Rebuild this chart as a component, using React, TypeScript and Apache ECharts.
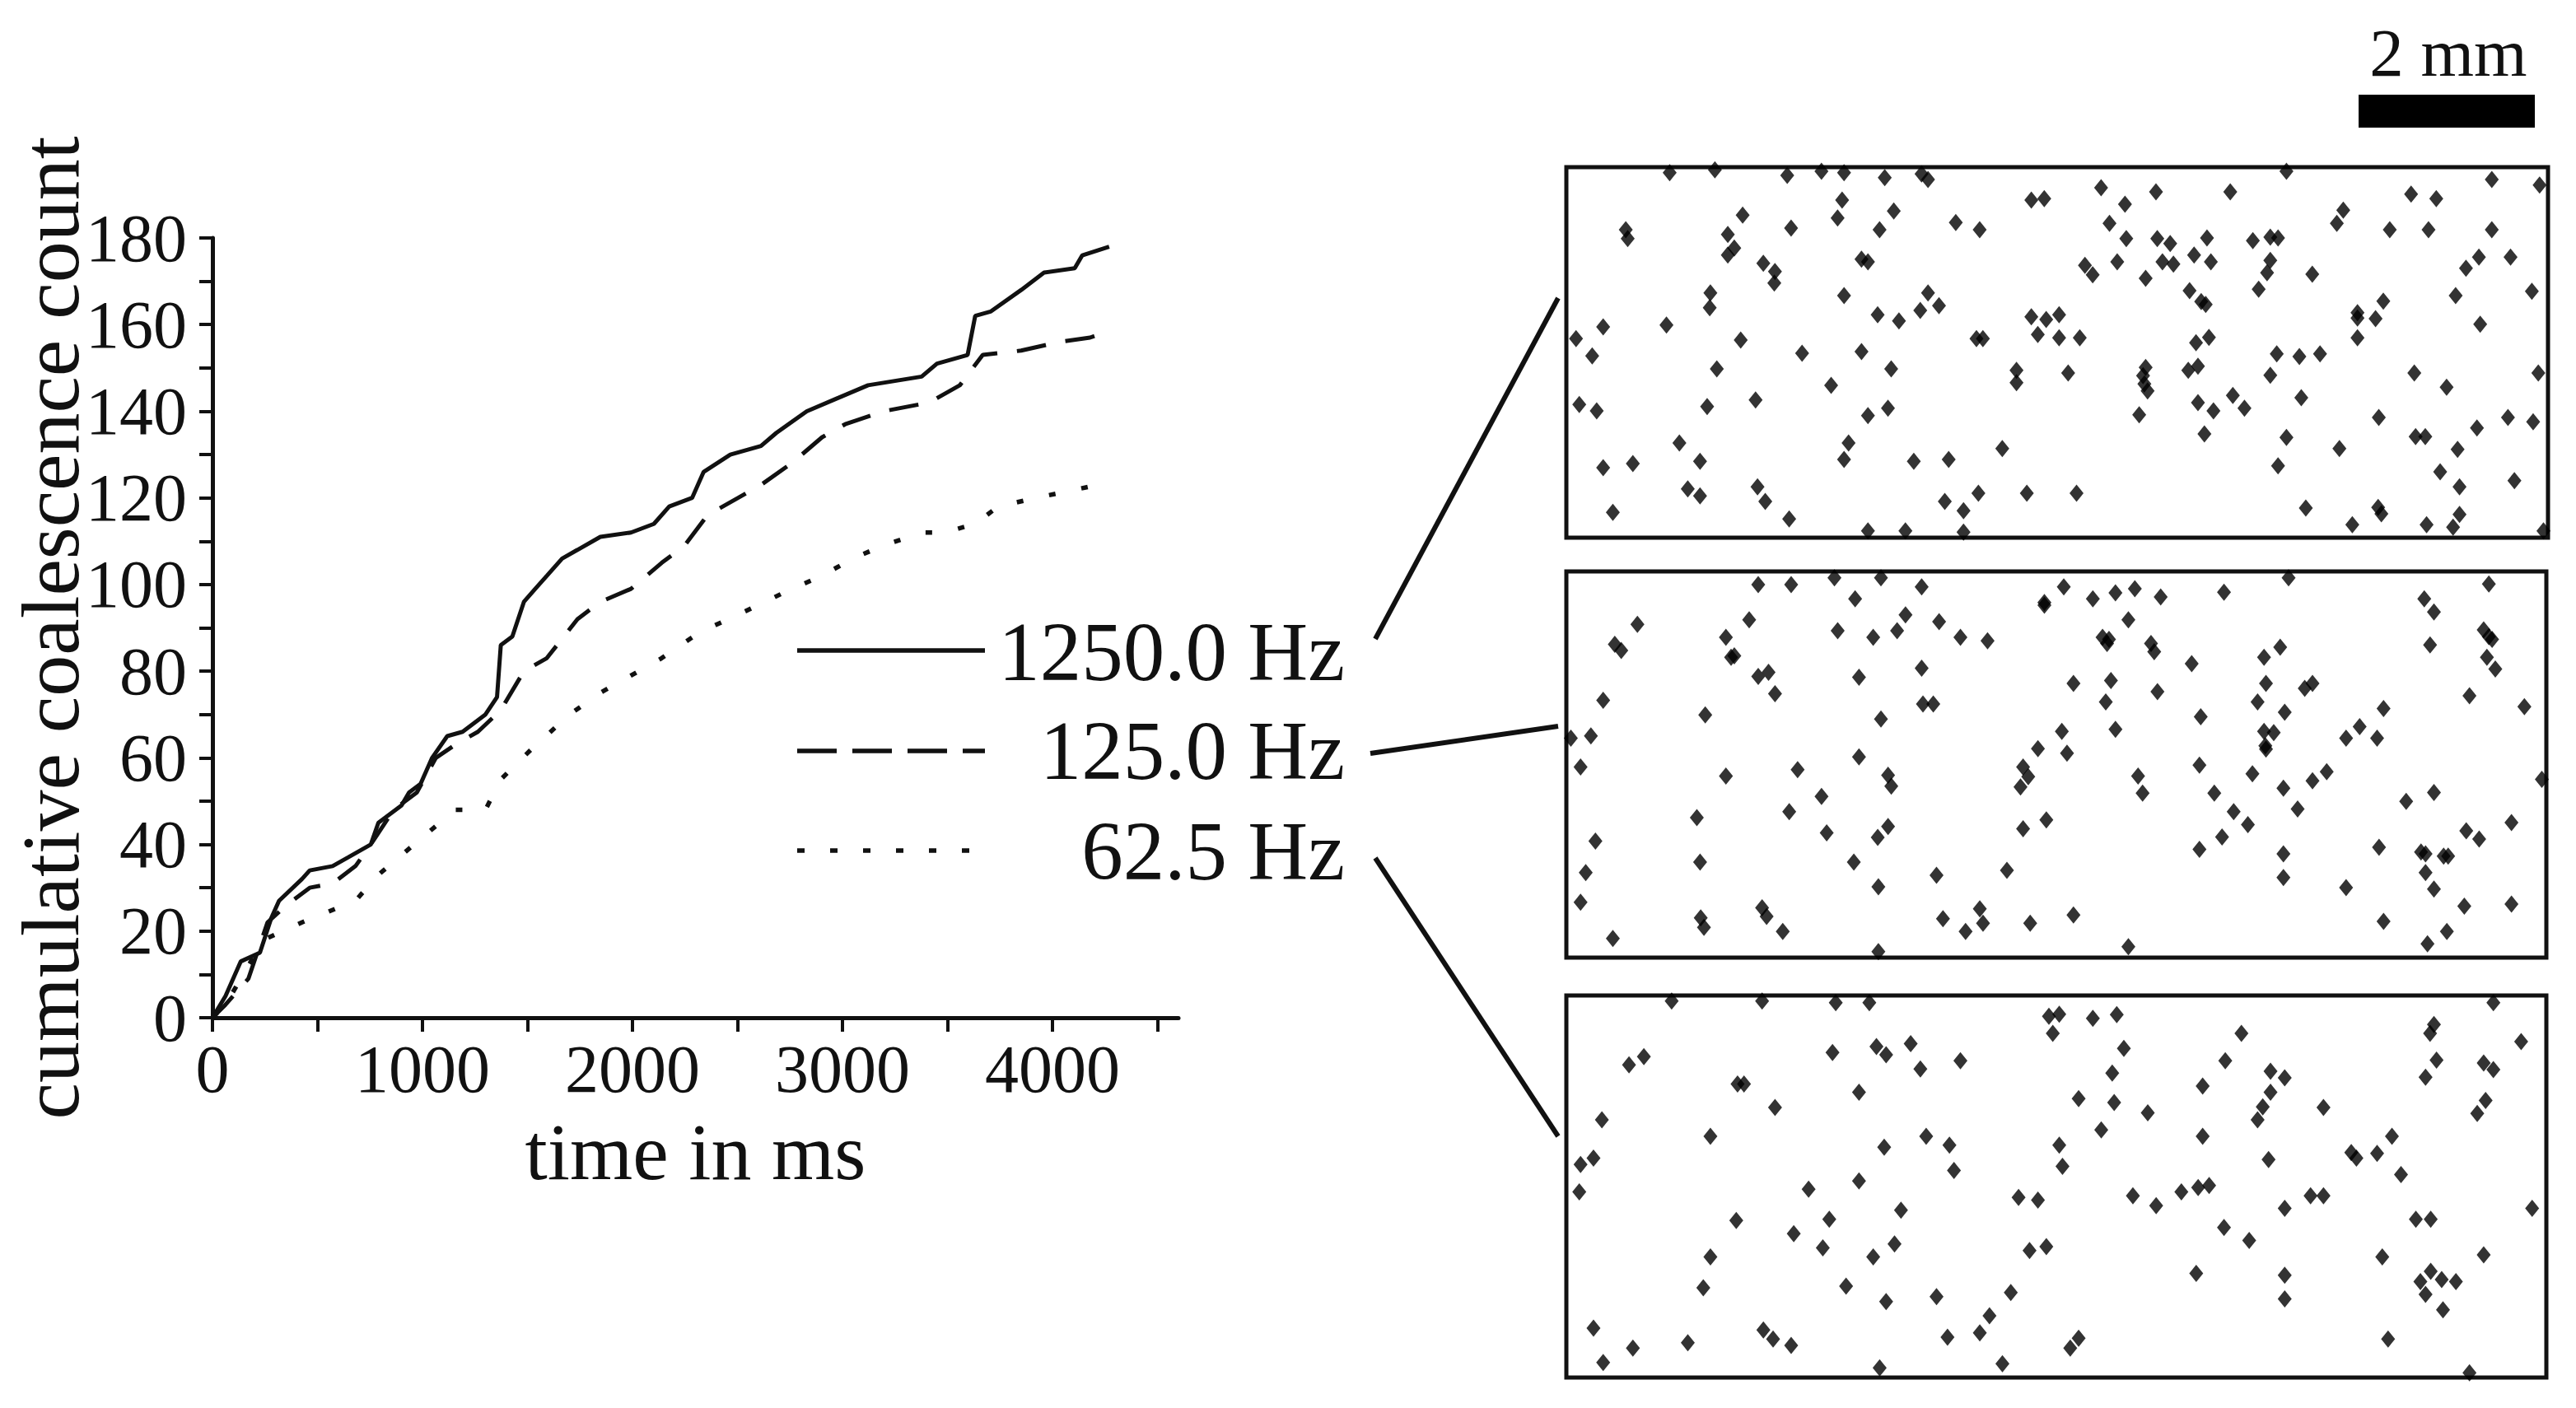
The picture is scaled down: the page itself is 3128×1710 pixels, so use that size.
import React, { useEffect, useRef } from "react";
import * as echarts from "echarts";

// ---- cumulative coalescence curves (time in ms, count) ----
const t1250 = [0, 62, 135, 226, 280, 317, 426, 463, 572, 645, 754, 790, 900, 936, 991, 1046, 1118, 1191, 1300, 1355, 1373, 1428, 1483, 1537, 1592, 1665, 1738, 1847, 1993, 2102, 2175, 2284, 2339, 2466, 2612, 2685, 2830, 2976, 3122, 3377, 3450, 3596, 3632, 3705, 3851, 3960, 4106, 4142, 4270];
const v1250 = [0, 5, 13, 15, 23, 27, 32, 34, 35, 37, 40, 45, 49, 52, 54, 60, 65, 66, 70, 74, 86, 88, 96, 99, 102, 106, 108, 111, 112, 114, 118, 120, 126, 130, 132, 135, 140, 143, 146, 148, 151, 153, 162, 163, 168, 172, 173, 176, 178];

const t125 = [0, 62, 171, 262, 353, 463, 572, 681, 754, 863, 973, 1064, 1155, 1264, 1373, 1483, 1592, 1738, 1847, 1993, 2139, 2248, 2357, 2503, 2612, 2758, 2903, 3013, 3195, 3413, 3559, 3668, 3851, 4033, 4179, 4240];
const v125 = [0, 3, 9, 22, 26, 30, 31, 35, 40, 48, 52, 60, 63, 66, 71, 80, 83, 92, 96, 99, 105, 109, 116, 120, 123, 128, 134, 137, 140, 142, 146, 153, 154, 156, 157, 158];

const t625 = [0, 62, 244, 426, 681, 790, 1009, 1155, 1300, 1373, 1519, 1701, 1847, 1993, 2139, 2321, 2503, 2758, 2903, 3049, 3195, 3377, 3486, 3632, 3741, 3924, 4215];
const v625 = [0, 3, 18, 22, 27, 33, 42, 48, 48, 55, 62, 70, 75, 79, 83, 89, 93, 99, 102, 106, 109, 112, 112, 114, 118, 120, 123];

const seriesNames = ["1250.0 Hz", "125.0 Hz", "62.5 Hz"];
const xTickValues = [0, 500, 1000, 1500, 2000, 2500, 3000, 3500, 4000, 4500];
const xLabelValues = [0, 1000, 2000, 3000, 4000];
const yTickValues = [0, 10, 20, 30, 40, 50, 60, 70, 80, 90, 100, 110, 120, 130, 140, 150, 160, 170, 180];
const yLabelValues = [0, 20, 40, 60, 80, 100, 120, 140, 160, 180];

// ---- droplet positions in each snapshot (image units, y downward) ----
const dropsTop: [number, number][] = [
  [175, 60], [245, 50], [357, 70], [410, 55], [445, 60], [508, 78], [565, 65], [575, 85], [1130, 55], [1448, 85], [1522, 105],
  [843, 115], [928, 130], [1043, 130], [1323, 138], [1362, 155], [735, 160], [755, 155], [442, 160], [880, 175], [1218, 197],
  [522, 200], [288, 215], [435, 225], [1208, 245], [856, 245], [618, 242], [655, 268], [500, 268], [363, 262], [107, 268],
  [110, 300], [265, 285], [1290, 268], [1350, 268], [1448, 268], [882, 300], [930, 300], [950, 318], [1007, 298], [1078, 308],
  [1105, 295], [1117, 298], [275, 335], [265, 360], [472, 375], [482, 385], [320, 390], [338, 420], [337, 462], [818, 398],
  [830, 432], [868, 385], [938, 385], [955, 393], [987, 360], [1013, 385], [1105, 380], [1100, 425], [1170, 430], [1428, 368],
  [1408, 408], [1477, 368], [912, 445], [1087, 485], [238, 498], [445, 508], [575, 498], [592, 545], [563, 562], [497, 578],
  [530, 600], [237, 552], [980, 490], [998, 530], [1005, 540], [1392, 508], [1510, 492], [1280, 528], [1240, 570], [1240, 590],
  [1268, 592], [1430, 612], [735, 585], [758, 595], [778, 578], [745, 650], [778, 662], [810, 662], [650, 665], [660, 665],
  [990, 680], [1010, 660], [1240, 662], [72, 622], [170, 615], [30, 665], [285, 670], [55, 728], [380, 718], [472, 712],
  [1115, 720], [1150, 730], [1182, 720], [248, 775], [518, 775], [712, 780], [712, 825], [792, 790], [912, 770], [908, 800],
  [910, 830], [915, 855], [978, 780], [993, 765], [1105, 798], [1328, 790], [1520, 790], [1378, 842], [425, 835], [35, 905],
  [62, 928], [233, 912], [308, 888], [482, 945], [513, 918], [902, 942], [993, 898], [1017, 928], [1047, 872], [1065, 918],
  [1153, 880], [1273, 952], [1473, 952], [1512, 968], [1425, 990], [1003, 1012], [1130, 1025], [1330, 1022], [1345, 1022],
  [1395, 1068], [1212, 1065], [690, 1065], [190, 1045], [452, 1045], [445, 1105], [553, 1112], [607, 1105], [72, 1135],
  [118, 1120], [222, 1112], [1117, 1128], [1368, 1150], [1483, 1182], [1398, 1205], [203, 1212], [222, 1238], [311, 1205],
  [323, 1258], [653, 1228], [728, 1228], [805, 1228], [601, 1258], [630, 1292], [87, 1298], [360, 1322], [1160, 1282],
  [1272, 1280], [1277, 1303], [1232, 1343], [1347, 1343], [1398, 1305], [1388, 1352], [482, 1365], [540, 1365], [630, 1370],
  [1528, 1365],
];

const dropsMid: [number, number][] = [
  [312, 90], [363, 90], [430, 65], [502, 65], [565, 98], [785, 98], [462, 142], [755, 155], [755, 165], [830, 142], [865, 120],
  [895, 105], [935, 135], [1033, 118], [1133, 65], [1443, 88], [1343, 142], [1358, 190], [125, 235], [298, 218], [540, 200],
  [592, 225], [885, 218], [262, 282], [435, 258], [490, 282], [527, 258], [625, 282], [667, 295], [845, 282], [855, 290],
  [852, 305], [920, 305], [925, 335], [90, 308], [100, 330], [270, 355], [275, 350], [1120, 318], [1095, 355], [983, 378],
  [1352, 310], [1435, 255], [1443, 280], [1448, 290], [1440, 355], [1453, 398], [312, 425], [328, 410], [468, 428], [565, 395],
  [338, 488], [800, 450], [858, 440], [930, 480], [1098, 450], [1158, 468], [1170, 450], [72, 512], [230, 565], [567, 525],
  [583, 525], [850, 518], [1085, 518], [1413, 495], [1498, 535], [1280, 542], [1127, 555], [502, 580], [997, 572], [22, 650],
  [53, 642], [782, 625], [865, 618], [1095, 625], [1110, 630], [1097, 678], [1098, 690], [1243, 608], [1222, 650], [1270, 650],
  [745, 688], [790, 705], [468, 718], [37, 755], [262, 788], [373, 765], [513, 785], [518, 825], [722, 755], [730, 790],
  [718, 828], [900, 788], [907, 850], [995, 748], [1077, 780], [1018, 850], [1125, 832], [1170, 805], [1192, 772], [1358, 848],
  [1315, 880], [1525, 800], [410, 862], [360, 918], [217, 940], [1048, 918], [1147, 908], [1070, 965], [758, 948], [722, 980],
  [513, 972], [497, 1012], [418, 995], [60, 1025], [1030, 1010], [995, 1055], [1125, 1072], [1273, 1048], [1338, 1065],
  [1345, 1072], [1373, 1080], [1380, 1080], [1408, 988], [1428, 1018], [1478, 958], [222, 1102], [460, 1102], [697, 1132],
  [588, 1150], [45, 1140], [1125, 1158], [1345, 1140], [1358, 1200], [1222, 1195], [498, 1192], [37, 1248], [318, 1268],
  [325, 1300], [223, 1305], [228, 1340], [598, 1308], [655, 1272], [660, 1325], [733, 1325], [800, 1295], [350, 1355],
  [633, 1355], [87, 1380], [1280, 1318], [1405, 1262], [1478, 1255], [1378, 1355], [1348, 1400], [885, 1410], [498, 1428],
];

const dropsBottom: [number, number][] = [
  [178, 62], [318, 62], [432, 68], [484, 68], [1450, 68], [762, 118], [778, 110], [830, 125], [867, 112], [768, 180], [1060, 180],
  [1358, 148], [1352, 180], [1493, 210], [878, 235], [495, 228], [510, 258], [548, 218], [427, 250], [625, 280], [563, 310],
  [112, 295], [135, 265], [1035, 280], [1362, 278], [1435, 288], [1450, 312], [1105, 318], [1127, 342], [1345, 340], [860, 325],
  [280, 365], [290, 365], [1000, 372], [468, 395], [1105, 395], [338, 450], [808, 418], [863, 432], [1093, 448], [1085, 495],
  [1187, 450], [915, 470], [1438, 425], [1425, 472], [70, 495], [843, 532], [238, 555], [572, 555], [608, 588], [507, 595],
  [778, 588], [1000, 555], [1293, 555], [1230, 615], [1238, 635], [1270, 618], [1102, 640], [37, 658], [57, 635], [615, 680],
  [783, 665], [1307, 695], [468, 718], [390, 748], [35, 758], [715, 778], [745, 788], [892, 772], [928, 808], [967, 758],
  [993, 742], [1010, 735], [1127, 818], [1167, 772], [1187, 772], [1510, 818], [533, 825], [422, 858], [278, 862], [1330, 858],
  [1353, 858], [367, 910], [1033, 888], [1072, 935], [412, 962], [523, 948], [490, 995], [732, 972], [758, 958], [238, 995],
  [1278, 995], [1435, 988], [990, 1055], [1127, 1062], [1353, 1048], [1337, 1085], [1370, 1078], [1392, 1085], [1345, 1132],
  [1372, 1188], [1127, 1148], [227, 1108], [448, 1102], [703, 1125], [588, 1140], [510, 1158], [670, 1210], [57, 1255],
  [320, 1262], [335, 1295], [363, 1318], [203, 1308], [118, 1328], [605, 1288], [655, 1272], [808, 1292], [795, 1328],
  [1287, 1295], [72, 1380], [690, 1385], [500, 1400], [1413, 1418],
];

const FONT = "'Liberation Serif', 'Times New Roman', serif";
const INK = "#111";

function zip(t: number[], v: number[]) {
  return t.map((x, i) => [x, v[i]]);
}

export default function App() {
  const ref = useRef<HTMLDivElement>(null);

  useEffect(() => {
    if (!ref.current) return;
    const chart = echarts.init(ref.current, undefined, { renderer: "svg" });

    const panelGrids = [
      { left: 1902, top: 203, width: 1192, height: 450 },
      { left: 1902, top: 694, width: 1190, height: 469 },
      { left: 1902, top: 1209, width: 1190, height: 464 },
    ];
    const panelExt = [
      { x: [15, 1535], y: [40, 1390] },
      { x: [15, 1532], y: [42, 1450] },
      { x: [15, 1532], y: [42, 1435] },
    ];
    const panelData = [dropsTop, dropsMid, dropsBottom];

    const option: any = {
      animation: false,
      backgroundColor: "#fff",
      textStyle: { fontFamily: FONT, color: INK },
      grid: [
        { left: 258, top: 289, width: 1173, height: 947, containLabel: false },
        ...panelGrids.map((g) => ({
          ...g,
          show: true,
          borderColor: INK,
          borderWidth: 5,
          backgroundColor: "transparent",
        })),
      ],
      xAxis: [
        {
          gridIndex: 0,
          type: "value",
          min: 0,
          max: 4600,
          name: "time in ms",
          nameLocation: "middle",
          nameGap: 123,
          nameMoveOverlap: false,
          nameTextStyle: { fontSize: 98, lineHeight: 80, fontFamily: FONT, color: INK },
          axisLine: { show: true, onZero: false, lineStyle: { color: INK, width: 5 } },
          axisTick: { show: true, length: 17, lineStyle: { color: INK, width: 4 }, customValues: xTickValues },
          axisLabel: {
            customValues: xLabelValues,
            formatter: (v: number) => String(v),
            fontSize: 82,
            lineHeight: 64,
            fontFamily: FONT,
            color: INK,
            margin: 30,
          },
          splitLine: { show: false },
        },
        ...panelExt.map((p, i) => ({
          gridIndex: i + 1,
          type: "value",
          min: p.x[0],
          max: p.x[1],
          show: false,
          splitLine: { show: false },
        })),
      ],
      yAxis: [
        {
          gridIndex: 0,
          type: "value",
          min: 0,
          max: 180,
          name: "cumulative coalescence count",
          nameLocation: "middle",
          nameGap: 147,
          nameMoveOverlap: false,
          nameTextStyle: { fontSize: 100, fontFamily: FONT, color: INK, lineHeight: 100 },
          axisLine: { show: true, onZero: false, lineStyle: { color: INK, width: 5 } },
          axisTick: { show: true, length: 16, lineStyle: { color: INK, width: 4 }, customValues: yTickValues },
          axisLabel: {
            customValues: yLabelValues,
            formatter: (v: number) => String(v),
            fontSize: 82,
            fontFamily: FONT,
            color: INK,
            margin: 31,
          },
          splitLine: { show: false },
        },
        ...panelExt.map((p, i) => ({
          gridIndex: i + 1,
          type: "value",
          inverse: true,
          min: p.y[0],
          max: p.y[1],
          show: false,
          splitLine: { show: false },
        })),
      ],
      series: [
        {
          name: seriesNames[0],
          type: "line",
          xAxisIndex: 0,
          yAxisIndex: 0,
          data: zip(t1250, v1250),
          showSymbol: false,
          symbol: "none",
          lineStyle: { color: INK, width: 5 },
        },
        {
          name: seriesNames[1],
          type: "line",
          xAxisIndex: 0,
          yAxisIndex: 0,
          data: zip(t125, v125),
          showSymbol: false,
          symbol: "none",
          lineStyle: { color: INK, width: 5, type: [36, 24] },
        },
        {
          name: seriesNames[2],
          type: "line",
          xAxisIndex: 0,
          yAxisIndex: 0,
          data: zip(t625, v625),
          showSymbol: false,
          symbol: "none",
          lineStyle: { color: INK, width: 5.5, type: [8, 32] },
        },
        ...panelData.map((d, i) => ({
          name: "droplets " + seriesNames[i],
          type: "scatter",
          xAxisIndex: i + 1,
          yAxisIndex: i + 1,
          data: d,
          symbol: "diamond",
          symbolSize: [17, 21],
          clip: false,
          itemStyle: { color: "#000" },
        })),
      ],
      graphic: [
        // legend samples
        { type: "line", shape: { x1: 968, y1: 790, x2: 1196, y2: 790 }, style: { stroke: INK, lineWidth: 5.5 } },
        { type: "line", shape: { x1: 968, y1: 912, x2: 1196, y2: 912 }, style: { stroke: INK, lineWidth: 5.5, lineDash: [48, 19] } },
        { type: "line", shape: { x1: 968, y1: 1033, x2: 1180, y2: 1033 }, style: { stroke: INK, lineWidth: 5.5, lineDash: [9, 31] } },
        ...seriesNames.map((n, i) => ({
          type: "text",
          x: 1633,
          y: [792, 912, 1034][i],
          style: { text: n, fontSize: 101, fontFamily: FONT, fill: INK, align: "right", verticalAlign: "middle" },
        })),
        // connectors legend -> snapshots
        { type: "line", shape: { x1: 1670, y1: 776, x2: 1892, y2: 362 }, style: { stroke: INK, lineWidth: 6 } },
        { type: "line", shape: { x1: 1664, y1: 915, x2: 1892, y2: 882 }, style: { stroke: INK, lineWidth: 6 } },
        { type: "line", shape: { x1: 1670, y1: 1042, x2: 1892, y2: 1380 }, style: { stroke: INK, lineWidth: 6 } },
        // scale bar
        { type: "rect", shape: { x: 2864, y: 115, width: 214, height: 40 }, style: { fill: "#000" } },
        {
          type: "text",
          x: 2973,
          y: 64,
          style: { text: "2 mm", fontSize: 83, fontFamily: FONT, fill: INK, align: "center", verticalAlign: "middle" },
        },
      ],
    };

    chart.setOption(option);
    return () => chart.dispose();
  }, []);

  return (
    <div
      ref={ref}
      style={{ position: "absolute", left: 0, top: 0, width: 3128, height: 1710, background: "#fff" }}
    />
  );
}
